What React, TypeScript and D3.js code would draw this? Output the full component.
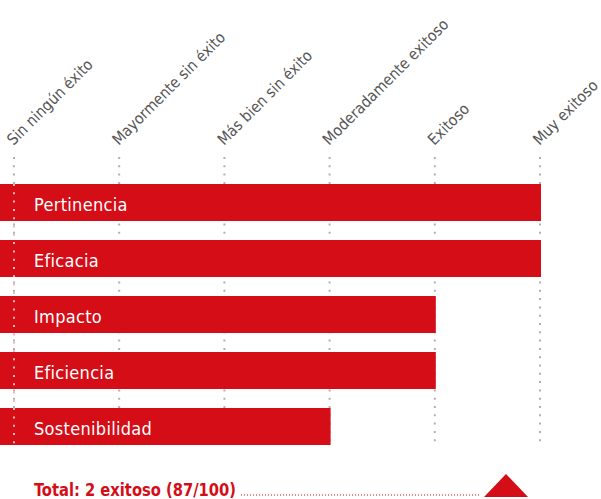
import React from "react";
import * as d3 from "d3";

const levels = [
  "Sin ningún éxito",
  "Mayormente sin éxito",
  "Más bien sin éxito",
  "Moderadamente exitoso",
  "Exitoso",
  "Muy exitoso",
];
const criteria = ["Pertinencia", "Eficacia", "Impacto", "Eficiencia", "Sostenibilidad"];
const scores = [5, 5, 4, 4, 3];
const totalLabel = "Total: 2 exitoso (87/100)";

const W = 601;
const H = 499;
const RED = "#d40d17";
const FONT = "'DejaVu Sans Condensed', 'DejaVu Sans', sans-serif";

export default function App() {
  const x = d3.scaleLinear().domain([0, levels.length - 1]).range([14, 540]);
  const y = d3
    .scaleBand<string>()
    .domain(criteria)
    .range([184, 445])
    .paddingInner(19 / 56)
    .paddingOuter(0);
  const gridTop = 157;
  const gridBottom = 445;

  return (
    <svg
      width={W}
      height={H}
      style={{ position: "absolute", left: 0, top: 0, display: "block" }}
      fontFamily={FONT}
    >
      <rect width={W} height={H} fill="#fff" />
      {levels.map((l, i) => (
        <g key={l}>
          <line
            x1={x(i)}
            x2={x(i)}
            y1={gridTop}
            y2={gridBottom}
            stroke="#b0b0b0"
            strokeWidth={2}
            strokeDasharray="2 6.3"
          />
          <text
            transform={`translate(${x(i) - 0.5},146) rotate(-45)`}
            fontSize={15.6}
            fill="#555"
          >
            {l}
          </text>
        </g>
      ))}
      {criteria.map((c, i) => (
        <g key={c}>
          <rect
            x={0}
            y={y(c)}
            width={x(scores[i]) + 1}
            height={y.bandwidth()}
            fill={RED}
          />
          <text
            x={34}
            y={(y(c) as number) + 27}
            fontSize={18}
            letterSpacing={0.3}
            fill="#fff"
          >
            {c}
          </text>
        </g>
      ))}
      <line
        x1={x(0)}
        x2={x(0)}
        y1={y(criteria[0]) as number}
        y2={gridBottom}
        stroke="#f0b8bb"
        strokeWidth={2}
        strokeDasharray="2 6.3"
      />
      <text
        x={34}
        y={496}
        fontSize={18}
        fontWeight="bold"
        fill={RED}
        textLength={202}
        lengthAdjust="spacingAndGlyphs"
      >
        {totalLabel}
      </text>
      <line
        x1={241}
        x2={479}
        y1={495}
        y2={495}
        stroke={RED}
        strokeWidth={1}
        strokeDasharray="1 2"
      />
      <path d="M484,497 L506,474 L528,497 Z" fill={RED} />
    </svg>
  );
}
